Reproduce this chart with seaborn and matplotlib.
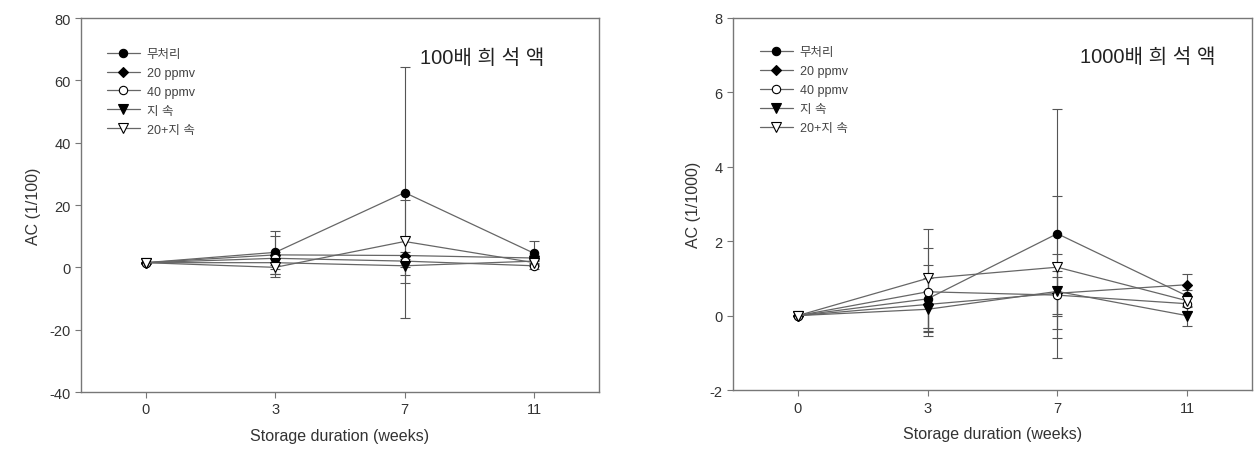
import numpy as np
import pandas as pd
import matplotlib
matplotlib.use('Agg')
import matplotlib.pyplot as plt
import seaborn as sns

# Data
weeks = ['0', '3', '7', '11']
series = ['무처리', '20 ppmv', '40 ppmv', '지 속', '20+지 속']

# 100x dilution (left panel)
left_vals = {
    '무처리':   [1.5, 4.8, 24.0, 4.5],
    '20 ppmv':  [1.5, 4.0, 3.8, 3.0],
    '40 ppmv':  [1.5, 2.9, 2.0, 0.5],
    '지 속':    [1.5, 1.5, 0.5, 2.0],
    '20+지 속': [1.5, 0.0, 8.3, 1.5],
}
left_err = {
    '무처리':   [0.3, 7.0, 40.3, 3.8],
    '20 ppmv':  [0.2, 6.0, 1.0, 1.0],
    '40 ppmv':  [0.2, 2.0, 2.0, 1.0],
    '지 속':    [0.2, 2.0, 3.0, 1.0],
    '20+지 속': [0.2, 3.0, 13.3, 1.0],
}

# 1000x dilution (right panel)
right_vals = {
    '무처리':   [0.0, 0.45, 2.2, 0.53],
    '20 ppmv':  [0.0, 0.30, 0.60, 0.83],
    '40 ppmv':  [0.0, 0.64, 0.55, 0.32],
    '지 속':    [0.0, 0.17, 0.65, 0.0],
    '20+지 속': [0.0, 1.0, 1.3, 0.40],
}
right_err = {
    '무처리':   [0.02, 0.90, 3.35, 0.30],
    '20 ppmv':  [0.02, 0.70, 0.60, 0.30],
    '40 ppmv':  [0.02, 1.18, 0.50, 0.20],
    '지 속':    [0.02, 0.50, 1.00, 0.27],
    '20+지 속': [0.02, 1.33, 1.90, 0.30],
}

# marker style per series
markers = {'무처리': 'o', '20 ppmv': 'D', '40 ppmv': 'o', '지 속': 'v', '20+지 속': 'v'}
faces = {'무처리': 'black', '20 ppmv': 'black', '40 ppmv': 'white', '지 속': 'black', '20+지 속': 'white'}
msizes = {'무처리': 6, '20 ppmv': 5.5, '40 ppmv': 6, '지 속': 6.5, '20+지 속': 6.5}

sns.set_style('white')
plt.rcParams['font.family'] = ['Liberation Sans', 'Noto Sans CJK KR']
plt.rcParams['axes.unicode_minus'] = False

fig = plt.figure(figsize=(12.55, 4.64), dpi=100)
ax1 = fig.add_axes([0.0645, 0.153, 0.4127, 0.806])
ax2 = fig.add_axes([0.584, 0.157, 0.4135, 0.803])

pos = np.arange(len(weeks))


def draw_panel(ax, vals, errs, ylim, yticks, ylabel, note, note_x, leg_anchor):
    for i, name in enumerate(series):
        # error bars first, underneath
        ax.errorbar(pos, vals[name], yerr=errs[name], fmt='none', ecolor='#555555',
                    elinewidth=0.8, capsize=3.5, capthick=0.8, zorder=1)
        sns.lineplot(x=pos, y=vals[name], ax=ax, color='#666666', linewidth=0.9,
                     marker=markers[name], markersize=msizes[name],
                     markerfacecolor=faces[name], markeredgecolor='black',
                     markeredgewidth=0.8, label=name, zorder=2 + i)
    ax.set_xlim(-0.5, 3.5)
    ax.set_ylim(*ylim)
    ax.set_yticks(yticks)
    ax.set_xticks(pos)
    ax.set_xticklabels(weeks)
    ax.set_xlabel('Storage duration (weeks)', fontsize=11.5, color='#333333', labelpad=8)
    ax.set_ylabel(ylabel, fontsize=11.5, color='#333333', labelpad=6)
    ax.tick_params(axis='both', direction='out', length=4, width=0.8, colors='#777777',
                   labelcolor='#333333', labelsize=10.5, bottom=True, left=True)
    for sp in ax.spines.values():
        sp.set_color('#777777')
        sp.set_linewidth(1.0)
    ax.text(note_x, 0.895, note, transform=ax.transAxes, fontsize=14.5,
            color='#222222', va='center', ha='left')
    leg = ax.legend(loc='upper left', bbox_to_anchor=leg_anchor, frameon=False,
                    fontsize=9, handlelength=2.65, handletextpad=0.55, labelspacing=0.55,
                    borderaxespad=0)
    for t in leg.get_texts():
        t.set_color('#444444')


draw_panel(ax1, left_vals, left_err, (-40, 80), np.arange(-40, 81, 20),
           'AC (1/100)', '100배 희 석 액', 0.654, (0.04, 0.933))
draw_panel(ax2, right_vals, right_err, (-2, 8), np.arange(-2, 9, 2),
           'AC (1/1000)', '1000배 희 석 액', 0.669, (0.042, 0.936))

fig.savefig('out.png', dpi=100)
